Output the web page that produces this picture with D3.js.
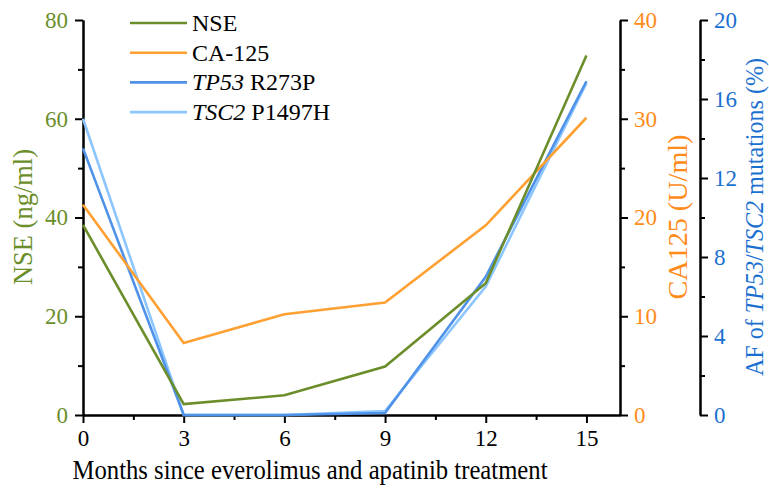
<!DOCTYPE html>
<html>
<head>
<meta charset="utf-8">
<script src="https://cdn.jsdelivr.net/npm/d3@7"></script>
<style>
  body { margin: 0; background: #fff; }
  svg { font-family: "Liberation Serif", "Times New Roman", serif; }
  .axis path, .axis line { stroke: #000; stroke-width: 2; }
</style>
</head>
<body>
<svg id="chart"></svg>
<script>
const w = 769;
const h = 497;

// data
const months = [0, 3, 6, 9, 12, 15];
const nse = [38.5, 2.2, 4.0, 9.8, 26.7, 72.8];      // ng/ml, left axis
const ca125 = [21.3, 7.3, 10.2, 11.4, 19.2, 30.1];  // U/ml, first right axis
const tp53 = [13.5, 0, 0, 0.1, 7.0, 16.9];          // AF %, second right axis
const tsc2 = [15.0, 0, 0, 0.2, 6.5, 16.8];

const xTicks = [0, 3, 6, 9, 12, 15];
const nseTicks = [0, 20, 40, 60, 80];
const caTicks = [0, 10, 20, 30, 40];
const afTicks = [0, 4, 8, 12, 16, 20];

const green = '#6b8e2a';
const orange = '#ffa033';
const blue = '#4f92e8';
const lightBlue = '#8cc6ff';

const svg = d3.select('#chart')
  .attr('width', w)
  .attr('height', h);

// Scales
const xScale = d3.scaleLinear().domain([0, 16]).range([83, 620]);
const yNse = d3.scaleLinear().domain([0, 80]).range([415, 20]);
const yCa = d3.scaleLinear().domain([0, 40]).range([415, 20]);
const yAf = d3.scaleLinear().domain([0, 20]).range([415, 20]);

// Axes
function minors(ticks) {
  const out = [];
  for (let i = 0; i < ticks.length - 1; i++) out.push((ticks[i] + ticks[i + 1]) / 2);
  return out;
}

function drawAxis(axisFn, scale, ticks, transform, color, pad) {
  const g = svg.append('g').attr('class', 'axis').attr('transform', transform);
  g.call(axisFn(scale).tickValues(minors(ticks)).tickSize(5).tickSizeOuter(0).tickFormat(''));
  g.append('g').call(axisFn(scale).tickValues(ticks).tickSize(8).tickSizeOuter(0).tickPadding(pad));
  g.selectAll('text')
    .attr('fill', color)
    .attr('font-size', '23px')
    .attr('font-family', '"Liberation Serif", serif');
  return g;
}

drawAxis(d3.axisBottom, xScale, xTicks, 'translate(0,415)', '#000', 7);
drawAxis(d3.axisLeft, yNse, nseTicks, 'translate(83,0)', green, 7);
drawAxis(d3.axisRight, yCa, caTicks, 'translate(620,0)', '#ff8c1a', 6);
drawAxis(d3.axisRight, yAf, afTicks, 'translate(700,0)', '#1a70d0', 6);

// Lines
const series = [
  { name: 'NSE', vals: nse, y: yNse, color: green },
  { name: 'CA-125', vals: ca125, y: yCa, color: orange },
  { name: 'TP53', vals: tp53, y: yAf, color: blue },
  { name: 'TSC2', vals: tsc2, y: yAf, color: lightBlue }
];

// draw light blue first so the darker blue sits on top
[series[3], series[2], series[1], series[0]].forEach(s => {
  const line = d3.line()
    .x((d, i) => xScale(months[i]))
    .y(d => s.y(d));
  svg.append('path')
    .datum(s.vals)
    .attr('d', line)
    .attr('fill', 'none')
    .attr('stroke', s.color)
    .attr('stroke-width', 2.6)
    .attr('stroke-linejoin', 'miter');
});

// Axis titles
svg.append('text')
  .attr('transform', 'translate(32,217) rotate(-90)')
  .attr('text-anchor', 'middle')
  .attr('font-size', '27px')
  .attr('fill', green)
  .attr('textLength', 136)
  .attr('lengthAdjust', 'spacingAndGlyphs')
  .text('NSE (ng/ml)');

svg.append('text')
  .attr('transform', 'translate(687,217) rotate(-90)')
  .attr('text-anchor', 'middle')
  .attr('font-size', '28px')
  .attr('fill', '#ff8c1a')
  .attr('textLength', 165)
  .attr('lengthAdjust', 'spacingAndGlyphs')
  .text('CA125 (U/ml)');

const afTitle = svg.append('text')
  .attr('transform', 'translate(763,217) rotate(-90)')
  .attr('text-anchor', 'middle')
  .attr('font-size', '25px')
  .attr('fill', '#1a70d0')
  .attr('textLength', 318)
  .attr('lengthAdjust', 'spacingAndGlyphs');
afTitle.append('tspan').text('AF of ');
afTitle.append('tspan').attr('font-style', 'italic').text('TP53');
afTitle.append('tspan').text('/');
afTitle.append('tspan').attr('font-style', 'italic').text('TSC2');
afTitle.append('tspan').text(' mutations (%)');

svg.append('text')
  .attr('x', 310)
  .attr('y', 479)
  .attr('text-anchor', 'middle')
  .attr('font-size', '27px')
  .attr('fill', '#000')
  .attr('textLength', 475)
  .attr('lengthAdjust', 'spacingAndGlyphs')
  .text('Months since everolimus and apatinib treatment');

// Legend
const legendRows = [
  { color: green, parts: [['NSE', false]] },
  { color: orange, parts: [['CA-125', false]] },
  { color: blue, parts: [['TP53', true], [' R273P', false]] },
  { color: lightBlue, parts: [['TSC2', true], [' P1497H', false]] }
];

const legend = svg.append('g').attr('transform', 'translate(130,23)');
legendRows.forEach((r, i) => {
  const row = legend.append('g').attr('transform', `translate(0,${i * 29.7})`);
  row.append('line')
    .attr('x1', 0).attr('x2', 57)
    .attr('stroke', r.color)
    .attr('stroke-width', 2.6);
  const t = row.append('text')
    .attr('x', 62)
    .attr('y', 8)
    .attr('font-size', '24px')
    .attr('fill', '#000');
  r.parts.forEach(p => {
    t.append('tspan').attr('font-style', p[1] ? 'italic' : 'normal').text(p[0]);
  });
});
</script>
</body>
</html>
